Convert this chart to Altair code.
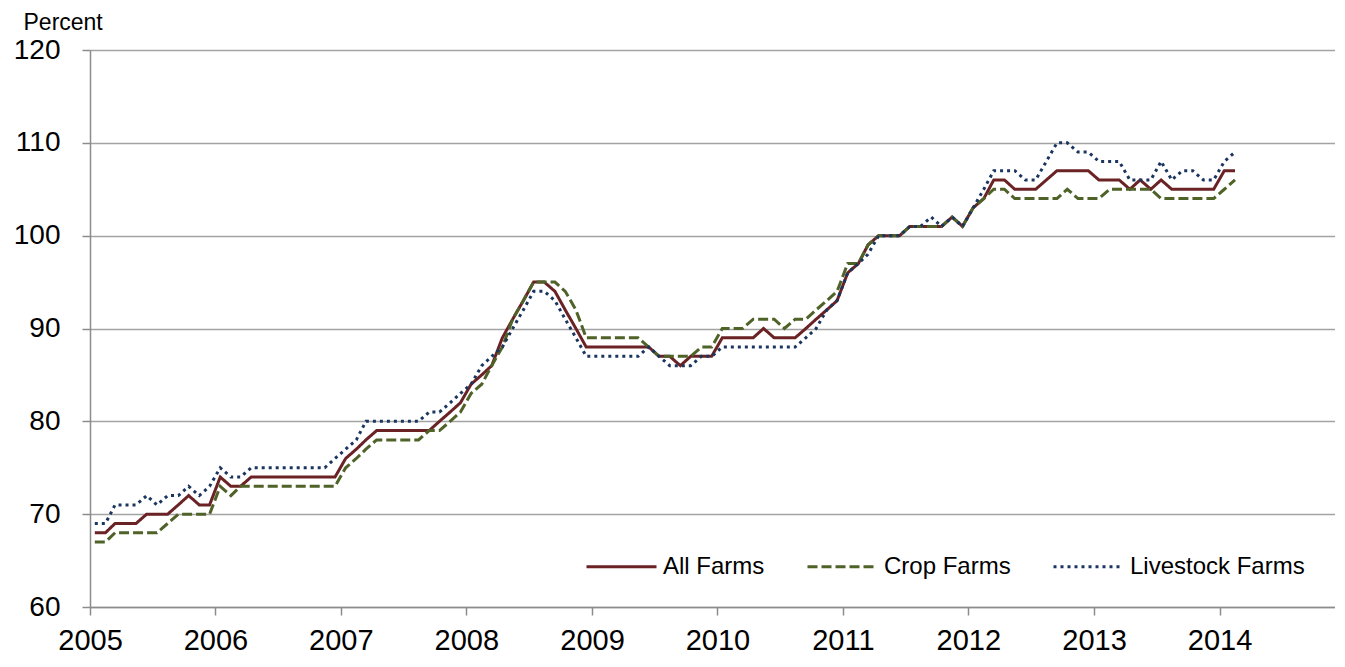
import altair as alt
import pandas as pd

# Monthly observations, Jan 2005 .. Feb 2014 (mid-month)
months = [f"{y}-{m:02d}-15" for y in range(2005, 2015) for m in range(1, 13)][:110]

all_farms = [
    68, 68, 69, 69, 69, 70, 70, 70, 71, 72, 71, 71,          # 2005
    74, 73, 73, 74, 74, 74, 74, 74, 74, 74, 74, 74,          # 2006
    76, 77, 78, 79, 79, 79, 79, 79, 79, 80, 81, 82,          # 2007
    84, 85, 86, 89, 91, 93, 95, 95, 94, 92, 90, 88,          # 2008
    88, 88, 88, 88, 88, 88, 87, 87, 86, 87, 87, 87,          # 2009
    89, 89, 89, 89, 90, 89, 89, 89, 90, 91, 92, 93,          # 2010
    96, 97, 99, 100, 100, 100, 101, 101, 101, 101, 102, 101, # 2011
    103, 104, 106, 106, 105, 105, 105, 106, 107, 107, 107, 107,  # 2012
    106, 106, 106, 105, 106, 105, 106, 105, 105, 105, 105, 105,  # 2013
    107, 107,                                                 # 2014
]

crop_farms = [
    67, 67, 68, 68, 68, 68, 68, 69, 70, 70, 70, 70,
    73, 72, 73, 73, 73, 73, 73, 73, 73, 73, 73, 73,
    75, 76, 77, 78, 78, 78, 78, 78, 79, 79, 80, 81,
    83, 84, 86, 88, 91, 93, 95, 95, 95, 94, 92, 89,
    89, 89, 89, 89, 89, 88, 87, 87, 87, 87, 88, 88,
    90, 90, 90, 91, 91, 91, 90, 91, 91, 92, 93, 94,
    97, 97, 99, 100, 100, 100, 101, 101, 101, 101, 102, 101,
    103, 104, 105, 105, 104, 104, 104, 104, 104, 105, 104, 104,
    104, 105, 105, 105, 105, 105, 104, 104, 104, 104, 104, 104,
    105, 106,
]

livestock_farms = [
    69, 69, 71, 71, 71, 72, 71, 72, 72, 73, 72, 73,
    75, 74, 74, 75, 75, 75, 75, 75, 75, 75, 75, 76,
    77, 78, 80, 80, 80, 80, 80, 80, 81, 81, 82, 83,
    84, 86, 87, 88, 90, 92, 94, 94, 93, 91, 89, 87,
    87, 87, 87, 87, 87, 88, 87, 86, 86, 86, 87, 87,
    88, 88, 88, 88, 88, 88, 88, 88, 89, 90, 92, 93,
    96, 97, 98, 100, 100, 100, 101, 101, 102, 101, 102, 101,
    103, 105, 107, 107, 107, 106, 106, 108, 110, 110, 109, 109,
    108, 108, 108, 106, 106, 106, 108, 106, 107, 107, 106, 106,
    108, 109,
]

series_names = ["All Farms", "Crop Farms", "Livestock Farms"]
series_colors = ["#6A2225", "#4F6228", "#1A355E"]
series_dashes = [[1, 0], [10, 4], [3, 4]]
year_ticks = list(range(2005, 2015))
y_ticks = [60, 70, 80, 90, 100, 110, 120]

frames = []
for name, vals in zip(series_names, [all_farms, crop_farms, livestock_farms]):
    frames.append(pd.DataFrame({"date": months, "value": vals, "series": name}))
df = pd.concat(frames, ignore_index=True)

FONT = "Liberation Sans"
GRID = "#A3A3A3"

legend = alt.Legend(
    title=None,
    orient="none",
    legendX=495,
    legendY=480,
    direction="horizontal",
    symbolType="stroke",
    symbolSize=4900,
    symbolStrokeWidth=3,
    labelFontSize=24,
    labelFont=FONT,
    labelColor="black",
    labelOffset=5,
    columnPadding=36,
    padding=0,
    labelLimit=0,
)

chart = (
    alt.Chart(df)
    .mark_line(strokeWidth=3, strokeCap="butt")
    .encode(
        x=alt.X(
            "date:T",
            scale=alt.Scale(
                domain=[
                    alt.DateTime(year=2005, month=1, date=1),
                    alt.DateTime(year=2014, month=12, date=3),
                ]
            ),
            axis=alt.Axis(
                values=[alt.DateTime(year=y, month=1, date=1) for y in year_ticks],
                format="%Y",
                title=None,
                grid=False,
                domainColor="#8C8C8C",
                domainWidth=1.5,
                tickColor="#8C8C8C",
                tickWidth=1.5,
                tickSize=8,
                labelFontSize=29,
                labelFont=FONT,
                labelColor="black",
                labelPadding=11,
                labelFlush=False,
                labelOverlap=False,
            ),
        ),
        y=alt.Y(
            "value:Q",
            scale=alt.Scale(domain=[60, 120], nice=False, zero=False),
            axis=alt.Axis(
                values=y_ticks,
                title="Percent",
                titleAngle=0,
                titleAlign="left",
                titleBaseline="alphabetic",
                titleX=-67,
                titleY=-21,
                titleFontSize=23,
                titleFont=FONT,
                titleFontWeight="normal",
                titleColor="black",
                grid=True,
                gridColor=GRID,
                gridWidth=1.5,
                domainColor="#8C8C8C",
                domainWidth=1.5,
                tickColor="#8C8C8C",
                tickWidth=1.5,
                tickSize=8,
                labelFontSize=28,
                labelFont=FONT,
                labelColor="black",
                labelPadding=22,
            ),
        ),
        color=alt.Color(
            "series:N",
            scale=alt.Scale(domain=series_names, range=series_colors),
            legend=legend,
        ),
        strokeDash=alt.StrokeDash(
            "series:N",
            scale=alt.Scale(domain=series_names, range=series_dashes),
            legend=legend,
        ),
    )
    .properties(
        width=1245,
        height=557,
        padding={"left": 82, "top": 42, "right": 0, "bottom": 52},
        autosize=alt.AutoSizeParams(type="none"),
    )
    .configure_view(stroke=None)
    .configure(font=FONT)
)

chart.save("out.html", embed_options={"renderer": "svg", "actions": False})
